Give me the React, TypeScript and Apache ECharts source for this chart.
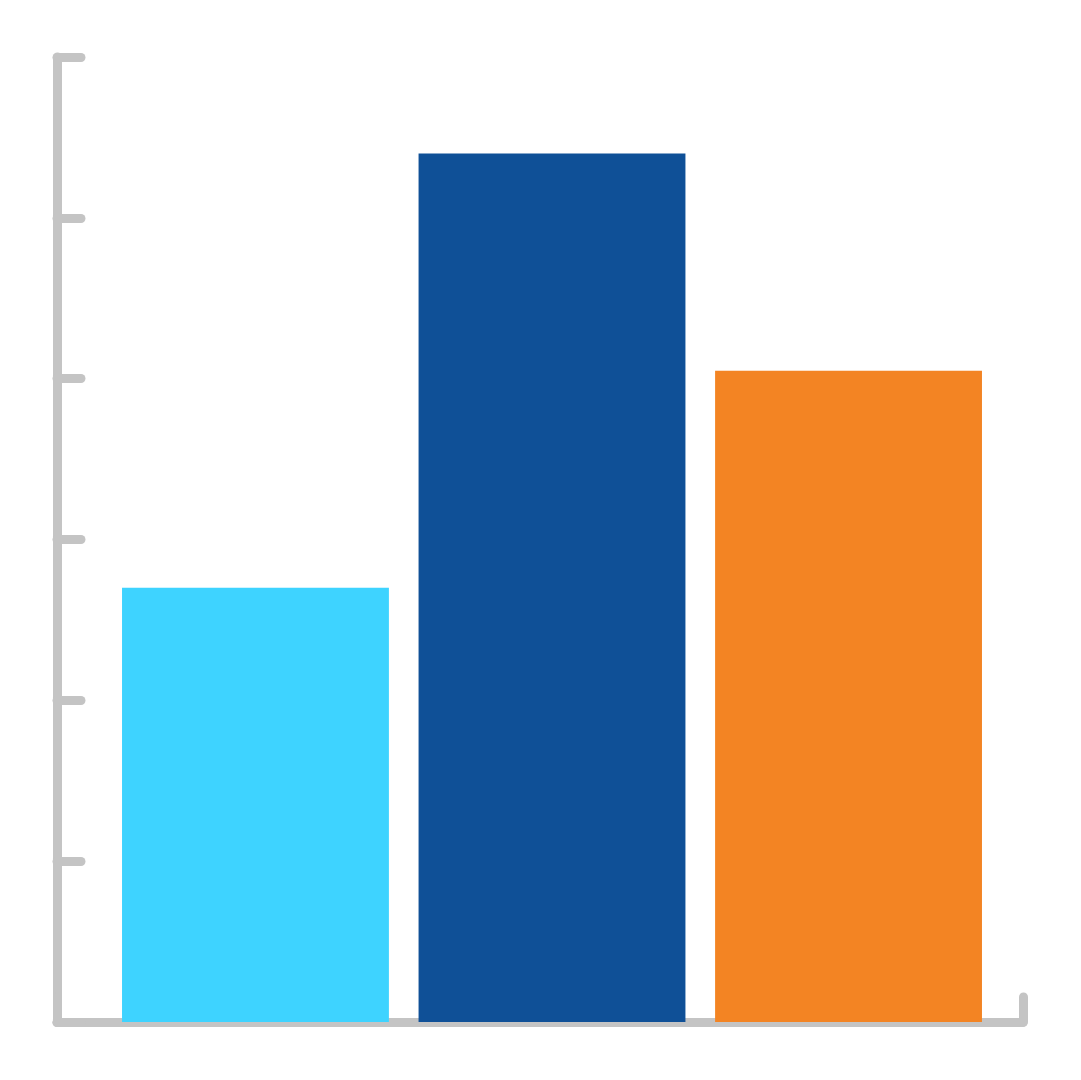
import React, { useEffect, useRef } from 'react';
import * as echarts from 'echarts';

// Dữ liệu của biểu đồ
const categories: string[] = ['A', 'B', 'C'];
const values: number[] = [2.7, 5.4, 4.05];
const barColors: string[] = ['#3ed3ff', '#0f5097', '#f38423'];

const axisGray = '#c4c4c4';

const App: React.FC = () => {
    const chartRef = useRef<HTMLDivElement>(null);

    useEffect(() => {
        if (!chartRef.current) return;
        const myChart = echarts.init(chartRef.current, undefined, { renderer: 'svg' });

        const axisLine = { show: true, lineStyle: { color: axisGray, width: 9, cap: 'round' as const } };
        const axisTick = { show: true, inside: true, lineStyle: { color: axisGray, width: 9, cap: 'round' as const } };

        const option: echarts.EChartsOption = {
            animation: false,
            backgroundColor: '#ffffff',
            grid: [
                // khung trục
                { left: 57, right: 58, top: 57, bottom: 58 },
                // khung cột
                { left: 107.2, right: 84.2, top: 57, bottom: 58 }
            ],
            xAxis: [
                {
                    gridIndex: 0,
                    type: 'value',
                    min: 0,
                    max: 1,
                    interval: 1,
                    axisLine,
                    axisTick: { ...axisTick, length: 25 },
                    axisLabel: { show: false },
                    splitLine: { show: false }
                },
                {
                    gridIndex: 1,
                    type: 'category',
                    data: categories,
                    show: false
                }
            ],
            yAxis: [
                {
                    gridIndex: 0,
                    type: 'value',
                    min: 0,
                    max: 6,
                    interval: 1,
                    axisLine,
                    axisTick: { ...axisTick, length: 24 },
                    axisLabel: { show: false },
                    splitLine: { show: false }
                },
                {
                    gridIndex: 1,
                    type: 'value',
                    min: 0,
                    max: 6,
                    show: false
                }
            ],
            series: [
                {
                    type: 'bar',
                    xAxisIndex: 1,
                    yAxisIndex: 1,
                    barCategoryGap: '10%',
                    z: 5,
                    data: values.map((v, i) => ({ value: v, itemStyle: { color: barColors[i] } }))
                }
            ]
        };
        myChart.setOption(option);

        return () => {
            myChart.dispose();
        };
    }, []);

    return (
        <div
            ref={chartRef}
            style={{ position: 'absolute', left: 0, top: 0, width: '1081px', height: '1080px' }}
        />
    );
};

export default App;
